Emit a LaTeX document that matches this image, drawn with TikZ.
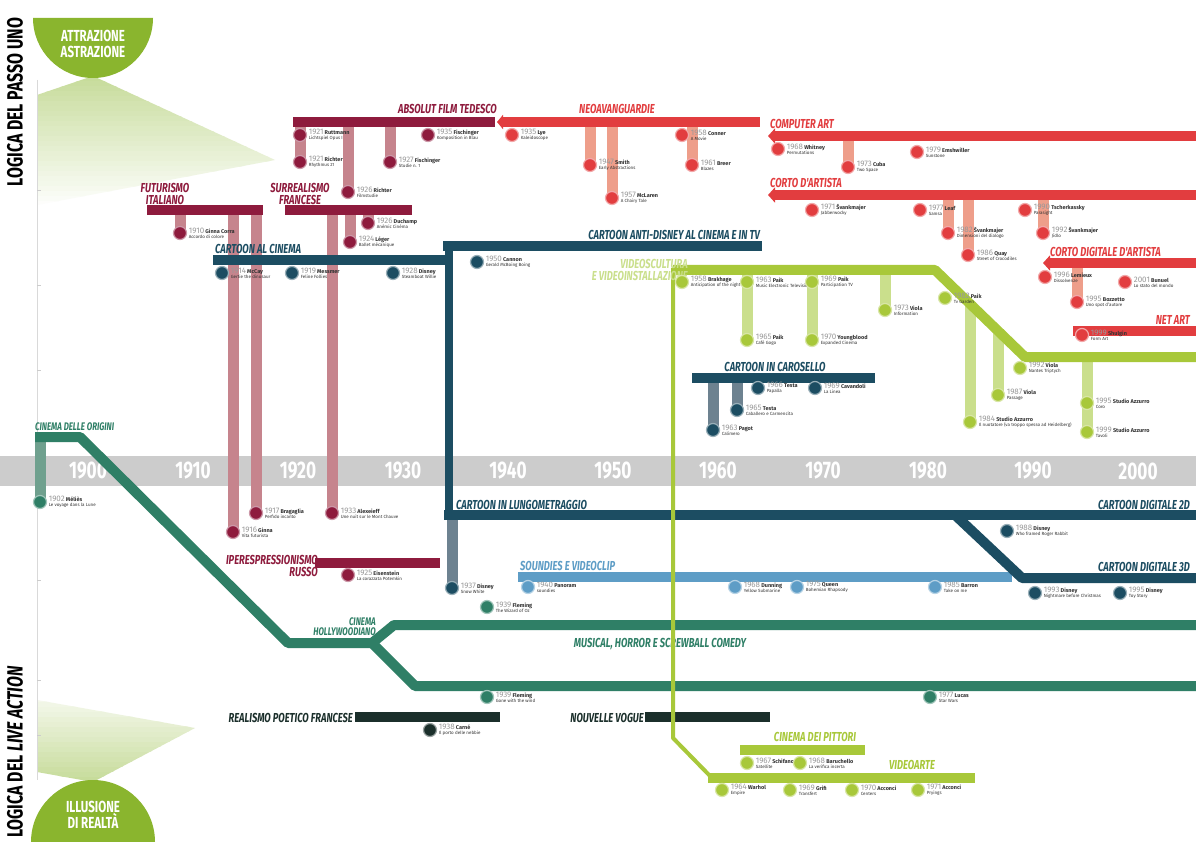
\documentclass[tikz,border=0pt]{standalone}
\usepackage{fontspec}
\setmainfont{Fira Sans}
\newfontfamily\condfont[FakeStretch=0.72]{Fira Sans}
\usetikzlibrary{positioning,arrows.meta}

\definecolor{maroon}{HTML}{8E1B3D}
\definecolor{maroonL}{HTML}{C6848D}
\definecolor{redA}{HTML}{E23D3F}
\definecolor{redL}{HTML}{EE9E8A}
\definecolor{tealD}{HTML}{1C4D62}
\definecolor{tealL}{HTML}{6D8290}
\definecolor{skyB}{HTML}{5E9DC6}
\definecolor{greenT}{HTML}{2F7F66}
\definecolor{greenTL}{HTML}{6FA08E}
\definecolor{lime}{HTML}{A8C83A}
\definecolor{limeL}{HTML}{CADF8C}
\definecolor{darkG}{HTML}{1B2F2B}
\definecolor{leaf}{HTML}{8AB52E}

\pgfdeclarelayer{back}
\pgfdeclarelayer{stems}
\pgfsetlayers{back,stems,main}

\tikzset{
  bar/.style={line width=10pt, draw=#1},
  stem/.style={line width=11pt, draw=#1},
  dot/.style={circle, fill=#1, draw=#1!45!white, line width=1.2pt, minimum size=13pt, inner sep=0pt},
  evtxt/.style={anchor=west, inner sep=0pt, align=left, font=\fontsize{4.5}{5}\selectfont, text=black!80},
  movlab/.style={font=\condfont\bfseries\itshape\fontsize{13}{12}\selectfont, text=#1, inner sep=0pt, align=center},
  yearlab/.style={font=\condfont\bfseries\fontsize{24}{24}\selectfont, text=white},
  disclab/.style={font=\condfont\bfseries\fontsize{16}{16}\selectfont, text=white, align=center},
  sidelab/.style={font=\condfont\bfseries\fontsize{22}{22}\selectfont, rotate=90, text=black},
}

\newcommand{\ev}[6]{%
  \node[dot=#3] (#1) at (#2) {};
  \node[evtxt, right=1.5pt of #1] (#1t) {{\fontsize{8}{8}\selectfont\color{black!40}#4}\ {\fontsize{5.5}{6}\selectfont\bfseries #5}\\#6};}

\begin{document}
\begin{tikzpicture}[x=1pt, y=-1pt, line join=round]
\useasboundingbox (0,0) rectangle (1196,842);

\begin{pgfonlayer}{back}
  \fill[white] (0,0) rectangle (1196,842);
  % fades under the two poles, in strips
  \begin{scope}
    \clip (93,76) -- (275,160) -- (37,205) -- (37,95) -- cycle;
    \foreach \k [evaluate=\k as \pc using int(48-1.8*\k)] in {0,...,26}
      \fill[leaf!\pc!white] (0,76+5*\k) rectangle (300,82+5*\k);
  \end{scope}
  \begin{scope}
    \clip (93,782) -- (37,772) -- (37,700) -- (195,728) -- cycle;
    \foreach \k [evaluate=\k as \pc using int(48-2.4*\k)] in {0,...,19}
      \fill[leaf!\pc!white] (0,776-5*\k) rectangle (300,782-5*\k);
  \end{scope}
  \draw[black!15, line width=1pt] (37,80) -- (37,780);
  \foreach \t in {190,285,370,580,680,735} \draw[black!20] (37,\t) -- (41,\t);
  % time axis
  \fill[black!20] (0,456) rectangle (1196,486);
  \foreach \yr [count=\i from 0] in {1900,1910,...,2000}
    \node[yearlab] (yr\yr) at (88+105*\i,471) {\yr};
\end{pgfonlayer}

% poles
\fill[leaf] (33,18) arc[start angle=180, end angle=0, radius=60];
\node[disclab] (astr) at (93,44) {ATTRAZIONE\\ASTRAZIONE};
\fill[leaf] (31,842) arc[start angle=180, end angle=360, radius=62];
\node[disclab] (illu) at (93,815) {ILLUSIONE\\DI REALTÀ};
\node[sidelab] (passo) at (15,102) {LOGICA DEL PASSO UNO};
\node[sidelab] (live) at (15,752) {LOGICA DEL \textit{LIVE ACTION}};

% maroon movements
\draw[bar=maroon] (293,122) -- (495,122);
\draw[bar=maroon] (147,210) -- (263,210);
\draw[bar=maroon] (285,210) -- (412,210);
\draw[bar=maroon] (315,563) -- (440,563);
\node[movlab=maroon, anchor=base east] (absl) at (497,114) {ABSOLUT FILM TEDESCO};
\node[movlab=maroon, anchor=south] (futl) at (165,205) {FUTURISMO\\ITALIANO};
\node[movlab=maroon, anchor=south] (surl) at (300,205) {SURREALISMO\\FRANCESE};
\node[movlab=maroon, anchor=north east, align=right] (ipel) at (318,555) {IPERESPRESSIONISMO\\RUSSO};

% red movements
\draw[bar=redA, {Triangle[length=6pt,width=14pt]}-] (497,122) -- (760,122);
\draw[bar=redA, {Triangle[length=7pt,width=15pt]}-] (768,136) -- (1200,136);
\draw[bar=redA, {Triangle[length=7pt,width=15pt]}-] (768,195) -- (1200,195);
\draw[bar=redA, {Triangle[length=7pt,width=15pt]}-] (1043,263) -- (1200,263);
\draw[bar=redA] (1073,331) -- (1200,331);
\node[movlab=redA, anchor=base] (neol) at (617,114) {NEOAVANGUARDIE};
\node[movlab=redA, anchor=base west] (coml) at (770,129) {COMPUTER ART};
\node[movlab=redA, anchor=base west] (cdal) at (770,188) {CORTO D'ARTISTA};
\node[movlab=redA, anchor=base west] (cddl) at (1050,257) {CORTO DIGITALE D'ARTISTA};
\node[movlab=redA, anchor=base east] (netl) at (1190,324) {NET ART};

% cartoon lines
\draw[bar=tealD] (213,260) -- (452,260);
\draw[bar=tealD] (443,246) -- (762,246);
\draw[line width=8pt, tealD] (449,246) -- (449,515);
\draw[bar=tealD] (444,515) -- (1200,515);
\draw[bar=skyB] (518,577) -- (1012,577);
\draw[bar=tealD] (955,515) -- (1022,578) -- (1200,578);
\draw[bar=tealD] (692,378) -- (875,378);
\node[movlab=tealD, anchor=base west] (cacl) at (215,254) {CARTOON AL CINEMA};
\node[movlab=tealD, anchor=base east] (antl) at (760,240) {CARTOON ANTI-DISNEY AL CINEMA E IN TV};
\node[movlab=tealD, anchor=base west] (lunl) at (456,509) {CARTOON IN LUNGOMETRAGGIO};
\node[movlab=tealD, anchor=base east] (d2l) at (1190,509) {CARTOON DIGITALE 2D};
\node[movlab=tealD, anchor=base east] (d3l) at (1190,571) {CARTOON DIGITALE 3D};
\node[movlab=skyB, anchor=base west] (soul) at (520,570) {SOUNDIES E VIDEOCLIP};
\node[movlab=tealD, anchor=base] (carl) at (775,371) {CARTOON IN CAROSELLO};

% live action lines
\draw[bar=greenT] (35,437) -- (80,437) -- (288,643) -- (378,643);
\draw[bar=greenT] (372,643) -- (394,625) -- (1200,625);
\draw[bar=greenT] (372,643) -- (415,686) -- (1200,686);
\draw[bar=darkG] (355,717) -- (500,717);
\draw[bar=darkG] (645,717) -- (770,717);
\node[movlab=greenT, anchor=base west, font=\condfont\bfseries\itshape\fontsize{11}{11}\selectfont] (oril) at (35,430) {CINEMA DELLE ORIGINI};
\node[movlab=greenT, anchor=south east, align=right, font=\condfont\bfseries\itshape\fontsize{11}{10}\selectfont] (holl) at (376,636) {CINEMA\\HOLLYWOODIANO};
\node[movlab=greenT, anchor=base] (musl) at (660,647) {MUSICAL, HORROR E SCREWBALL COMEDY};
\node[movlab=darkG, anchor=base east] (real) at (353,722) {REALISMO POETICO FRANCESE};
\node[movlab=darkG, anchor=base east] (noul) at (644,722) {NOUVELLE VOGUE};

% video and installations
\draw[bar=lime] (673,270) -- (935,270) -- (1025,357) -- (1200,357);
\draw[line width=4pt, lime] (673,268) -- (673,738) -- (712,778);
\draw[bar=lime] (708,778) -- (975,778);
\draw[bar=lime] (740,750) -- (865,750);
\node[movlab=limeL, anchor=north east, align=right] (vidl) at (688,259) {VIDEOSCULTURA\\E VIDEOINSTALLAZIONE};
\node[movlab=lime, anchor=base] (pitl) at (815,741) {CINEMA DEI PITTORI};
\node[movlab=lime, anchor=base] (varl) at (912,769) {VIDEOARTE};

% events
\ev{abs1}{300,135}{maroon}{1921}{Ruttmann}{Lichtspiel Opus I}
\ev{abs2}{300,162}{maroon}{1921}{Richter}{Rhythmus 21}
\ev{abs3}{428,135}{maroon}{1935}{Fischinger}{Komposition in Blau}
\ev{abs4}{390,162}{maroon}{1927}{Fischinger}{Studie n. 1}
\ev{abs5}{348,192}{maroon}{1926}{Richter}{Filmstudie}
\ev{sur1}{368,223}{maroon}{1926}{Duchamp}{Anémic Cinéma}
\ev{sur2}{350,242}{maroon}{1924}{Léger}{Ballet mécanique}
\ev{sur3}{332,513}{maroon}{1933}{Alexeieff}{Une nuit sur le Mont Chauve}
\ev{fut1}{180,233}{maroon}{1910}{Ginna Corra}{Accordo di colore}
\ev{fut2}{233,532}{maroon}{1916}{Ginna}{Vita futurista}
\ev{fut3}{256,513}{maroon}{1917}{Bragaglia}{Perfido incanto}
\ev{ipe1}{348,575}{maroon}{1925}{Eisenstein}{La corazzata Potemkin}

\ev{neo1}{512,135}{redA}{1935}{Lye}{Kaleidoscope}
\ev{neo2}{590,165}{redA}{1947}{Smith}{Early Abstractions}
\ev{neo3}{612,198}{redA}{1957}{McLaren}{A Chairy Tale}
\ev{neo4}{682,135}{redA}{1958}{Conner}{A Movie}
\ev{neo5}{692,165}{redA}{1961}{Breer}{Blazes}
\ev{com1}{778,149}{redA}{1968}{Whitney}{Permutations}
\ev{com2}{848,167}{redA}{1973}{Cuba}{Two Space}
\ev{com3}{917,152}{redA}{1979}{Emshwiller}{Sunstone}
\ev{cda1}{812,210}{redA}{1971}{Švankmajer}{Jabberwocky}
\ev{cda2}{920,210}{redA}{1977}{Leaf}{Samsa}
\ev{cda3}{948,233}{redA}{1982}{Švankmajer}{Dimensioni del dialogo}
\ev{cda4}{968,255}{redA}{1986}{Quay}{Street of Crocodiles}
\ev{cda5}{1025,210}{redA}{1990}{Tscherkassky}{Parasight}
\ev{cda6}{1043,233}{redA}{1992}{Švankmajer}{Jídlo}
\ev{cdd1}{1045,277}{redA}{1996}{Lemieux}{Dissolvenze}
\ev{cdd2}{1077,302}{redA}{1995}{Bozzetto}{Uno spot d'autore}
\ev{cdd3}{1125,282}{redA}{2001}{Bunuel}{Lo stato del mondo}
\ev{net1}{1082,335}{redA}{1999}{Shulgin}{Form Art}

\ev{cac1}{222,273}{tealD}{1914}{McCay}{Gertie the dinosaur}
\ev{cac2}{292,273}{tealD}{1919}{Messmer}{Feline Follies}
\ev{cac3}{393,273}{tealD}{1928}{Disney}{Steamboat Willie}
\ev{ant1}{477,262}{tealD}{1950}{Cannon}{Gerald McBoing Boing}
\ev{lun1}{452,588}{tealD}{1937}{Disney}{Snow White}
\ev{dig1}{1007,531}{tealD}{1988}{Disney}{Who framed Roger Rabbit}
\ev{dig2}{1035,593}{tealD}{1993}{Disney}{Nightmare before Christmas}
\ev{dig3}{1120,593}{tealD}{1995}{Disney}{Toy Story}
\ev{car1}{758,388}{tealD}{1966}{Testa}{Papalla}
\ev{car2}{815,388}{tealD}{1969}{Cavandoli}{La Linea}
\ev{car3}{737,410}{tealD}{1965}{Testa}{Caballero e Carmencita}
\ev{car4}{713,430}{tealD}{1963}{Pagot}{Calimero}

\ev{sou1}{528,587}{skyB}{1940}{Panoram}{soundies}
\ev{sou2}{735,587}{skyB}{1968}{Dunning}{Yellow Submarine}
\ev{sou3}{797,587}{skyB}{1975}{Queen}{Bohemian Rhapsody}
\ev{sou4}{935,587}{skyB}{1985}{Barron}{Take on me}

\ev{ori1}{40,502}{greenT}{1902}{Méliès}{Le voyage dans la Lune}
\ev{hol1}{487,607}{greenT}{1939}{Fleming}{The Wizard of Oz}
\ev{hol2}{487,697}{greenT}{1939}{Fleming}{Gone with the wind}
\ev{hol3}{930,697}{greenT}{1977}{Lucas}{Star Wars}
\ev{rea1}{430,730}{darkG}{1938}{Carné}{Il porto delle nebbie}

\ev{und1}{682,282}{lime}{1958}{Brakhage}{Anticipation of the night}
\ev{und2}{747,282}{lime}{1963}{Paik}{Music Electronic Television}
\ev{und3}{747,340}{lime}{1965}{Paik}{Café Gogo}
\ev{und4}{812,282}{lime}{1969}{Paik}{Participation TV}
\ev{und5}{812,340}{lime}{1970}{Youngblood}{Expanded Cinema}
\ev{und6}{885,310}{lime}{1973}{Viola}{Information}
\ev{und7}{945,298}{lime}{1982}{Paik}{Tv Garden}
\ev{und8}{970,422}{lime}{1984}{Studio Azzurro}{Il nuotatore (va troppo spesso ad Heidelberg)}
\ev{und9}{998,395}{lime}{1987}{Viola}{Passage}
\ev{und10}{1020,368}{lime}{1992}{Viola}{Nantes Triptych}
\ev{und11}{1087,403}{lime}{1995}{Studio Azzurro}{Coro}
\ev{und12}{1087,432}{lime}{1999}{Studio Azzurro}{Tavoli}
\ev{pit1}{747,763}{lime}{1967}{Schifano}{Satellite}
\ev{pit2}{800,763}{lime}{1968}{Baruchello}{La verifica incerta}
\ev{vid1}{722,790}{lime}{1964}{Warhol}{Empire}
\ev{vid2}{790,790}{lime}{1969}{Grifi}{Transfert}
\ev{vid3}{852,790}{lime}{1970}{Acconci}{Centers}
\ev{vid4}{918,790}{lime}{1971}{Acconci}{Pryings}

% stems from the lines down to their works
\begin{pgfonlayer}{stems}
  \foreach \d/\y in {abs2/127, abs4/127, abs5/127, sur1/215, sur2/215, sur3/215, fut1/215, fut2/215, fut3/215}
    \draw[stem=maroonL] (\d |- 0,\y) -- (\d.center);
  \foreach \d/\y in {neo2/127, neo3/127, neo5/127, com2/141, cda3/200, cda4/200, cda6/200, cdd2/268}
    \draw[stem=redL] (\d |- 0,\y) -- (\d.center);
  \foreach \d/\y in {und3/275, und5/275, und6/275, und8/302, und9/329, und12/362}
    \draw[stem=limeL] (\d |- 0,\y) -- (\d.center);
  \foreach \d/\y in {car3/383, car4/383, lun1/520}
    \draw[stem=tealL] (\d |- 0,\y) -- (\d.center);
  \draw[stem=greenTL] (ori1 |- 0,442) -- (ori1.center);
\end{pgfonlayer}
\end{tikzpicture}
\end{document}
